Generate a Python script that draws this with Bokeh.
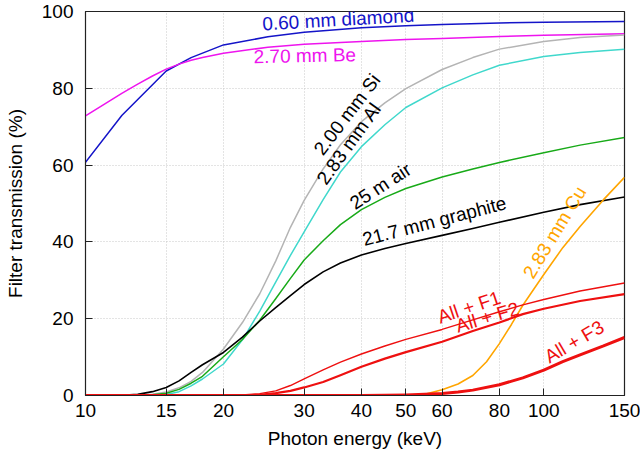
from bokeh.plotting import figure
from bokeh.models import FixedTicker, Label, Range1d
from bokeh.embed import file_html
from bokeh.resources import INLINE

# ---------------- data ----------------
x_ticks = [10, 15, 20, 30, 40, 50, 60, 80, 100, 150]
x_tick_labels = ["10", "15", "20", "30", "40", "50", "60", "80", "100", "150"]
y_ticks = [0, 20, 40, 60, 80, 100]

diamond_E = [10, 12, 15, 17, 20, 25, 30, 40, 50, 60, 80, 100, 150]
diamond_T = [60.7, 72.9, 84.5, 88.0, 91.3, 93.4, 94.6, 95.8, 96.3, 96.6, 97.0, 97.2, 97.4]

be_E = [10, 11, 12, 13, 14, 15, 16, 17, 18, 20, 25, 30, 40, 50, 60, 80, 100, 150]
be_T = [72.8, 75.9, 78.7, 81.1, 83.2, 85.0, 86.3, 87.3, 88.0, 89.1, 90.7, 91.5, 92.2, 92.7, 93.0, 93.5, 93.8, 94.2]

si_E = [10, 12, 13, 14, 15, 16, 17, 18, 20, 22, 24, 26, 28, 30, 33, 36, 40, 45, 50, 60, 70, 80, 100, 120, 150]
si_T = [0, 0, 0.05, 0.3, 0.9, 2.0, 3.7, 6.0, 12.1, 19.0, 26.5, 35.0, 43.8, 50.8, 59.0, 65.3, 71.3, 76.2, 79.9, 84.9, 88.0, 90.2, 92.2, 93.2, 93.9]

al_E = [10, 13, 14, 15, 16, 17, 18, 20, 22, 24, 26, 28, 30, 33, 36, 40, 45, 50, 60, 70, 80, 100, 120, 150]
al_T = [0, 0, 0.05, 0.25, 1.0, 2.5, 4.3, 8.2, 14.5, 22.0, 29.5, 36.5, 42.6, 51.0, 58.2, 64.8, 70.5, 75.0, 80.1, 83.5, 86.0, 88.3, 89.3, 90.2]

air_E = [10, 13, 14, 15, 16, 17, 18, 20, 22, 24, 26, 28, 30, 33, 36, 40, 45, 50, 60, 70, 80, 100, 120, 150]
air_T = [0, 0, 0.2, 0.6, 1.6, 3.2, 5.0, 10.1, 14.6, 19.6, 25.2, 30.5, 35.3, 40.3, 44.5, 48.4, 51.6, 53.9, 56.9, 59.0, 60.7, 63.2, 65.2, 67.2]

graphite_E = [10, 11, 12, 13, 14, 15, 16, 17, 18, 20, 22, 24, 26, 28, 30, 33, 36, 40, 45, 50, 60, 70, 80, 100, 120, 150]
graphite_T = [0, 0, 0.05, 0.3, 1.0, 2.1, 3.8, 6.0, 8.0, 11.2, 15.2, 19.4, 22.9, 26.0, 28.9, 32.2, 34.5, 36.6, 38.3, 39.6, 41.7, 43.5, 45.1, 47.7, 49.7, 51.7]

cu_E = [10, 50, 55, 60, 65, 70, 75, 80, 85, 90, 100, 110, 120, 135, 150]
cu_T = [0, 0, 0.3, 1.5, 3.0, 5.2, 8.8, 13.5, 18.5, 23.5, 31.5, 38.5, 44.0, 51.0, 56.8]

f1_E = [10, 20, 22, 24, 26, 28, 30, 33, 36, 40, 45, 50, 60, 70, 80, 90, 100, 120, 150]
f1_T = [0, 0, 0.15, 0.5, 1.2, 2.6, 4.3, 6.7, 8.7, 10.8, 12.9, 14.6, 17.2, 19.7, 21.8, 23.6, 25.0, 27.2, 29.3]

f2_E = [10, 22, 24, 26, 28, 30, 33, 36, 40, 45, 50, 60, 70, 80, 90, 100, 120, 150]
f2_T = [0, 0, 0.2, 0.6, 1.2, 2.1, 3.5, 5.3, 7.5, 9.6, 11.3, 14.0, 16.8, 19.0, 21.2, 22.6, 24.6, 26.4]

f3_E = [10, 40, 45, 50, 55, 60, 65, 70, 80, 90, 100, 110, 120, 135, 150]
f3_T = [0, 0, 0.05, 0.15, 0.3, 0.5, 0.9, 1.4, 2.8, 4.6, 6.6, 8.8, 10.6, 12.9, 15.1]

# curve label texts with their anchor (energy, transmission) and angle
label_texts = ["0.60 mm diamond", "2.70 mm Be", "2.00 mm Si", "2.83 mm Al", "25 m air",
               "21.7 mm graphite", "2.83 mm Cu", "All + F1", "All + F2", "All + F3"]
label_E = [35.6, 30.1, 37.2, 37.6, 44.0, 57.7, 105.6, 68.7, 75.3, 116.5]
label_T = [97.9, 88.5, 73.2, 65.7, 54.5, 45.4, 42.5, 23.0, 20.4, 14.0]
label_angle = [3.3, 1.1, 52.5, 54.2, 33, 14.6, 58.7, 18.5, 16.6, 30.3]

# ---------------- styling ----------------
FONT = "Liberation Sans"
FS = "19px"
BLUE = "#1414c8"
MAGENTA = "#ee14ee"
GRAY = "#b4b4b4"
CYAN = "#40d8cc"
GREEN = "#18aa18"
BLACK = "#000000"
ORANGE = "#ffa500"
RED = "#ee1010"
label_colors = [BLUE, MAGENTA, BLACK, BLACK, BLACK, BLACK, ORANGE, RED, RED, RED]

p = figure(width=640, height=455, x_axis_type="log",
           x_range=Range1d(10, 150), y_range=Range1d(0, 100),
           output_backend="svg", toolbar_location=None,
           min_border_left=85, min_border_right=16, min_border_top=11, min_border_bottom=60,
           background_fill_color="white", border_fill_color="white")

p.outline_line_color = "#222222"
p.outline_line_width = 1.2

xt = FixedTicker(ticks=x_ticks, minor_ticks=[])
yt = FixedTicker(ticks=y_ticks, minor_ticks=[])

for ax in p.xaxis:
    ax.ticker = xt
    ax.major_label_overrides = {t: s for t, s in zip(x_ticks, x_tick_labels)}
    ax.axis_label = "Photon energy (keV)"
    ax.major_label_standoff = 8
    ax.axis_label_standoff = 8
for ax in p.yaxis:
    ax.ticker = yt
    ax.axis_label = "Filter transmission (%)"
    ax.major_label_standoff = 12
    ax.axis_label_standoff = 13

for ax in list(p.xaxis) + list(p.yaxis):
    ax.major_tick_in = 7
    ax.major_tick_out = 0
    ax.minor_tick_in = 0
    ax.minor_tick_out = 0
    ax.axis_line_color = "#222222"
    ax.major_tick_line_color = "#222222"
    ax.major_label_text_font = FONT
    ax.major_label_text_font_size = FS
    ax.major_label_text_color = "black"
    ax.axis_label_text_font = FONT
    ax.axis_label_text_font_size = FS
    ax.axis_label_text_font_style = "normal"
    ax.axis_label_text_color = "black"

p.xgrid.ticker = xt
p.ygrid.ticker = yt
for g in (p.xgrid, p.ygrid):
    g.grid_line_color = "#c8c8c8"
    g.grid_line_dash = "1 2"
    g.grid_line_width = 1

series = [
    (diamond_E, diamond_T, BLUE, 1.5),
    (be_E, be_T, MAGENTA, 1.5),
    (si_E, si_T, GRAY, 1.5),
    (al_E, al_T, CYAN, 1.5),
    (air_E, air_T, GREEN, 1.5),
    (graphite_E, graphite_T, BLACK, 1.6),
    (cu_E, cu_T, ORANGE, 1.6),
    (f1_E, f1_T, RED, 1.4),
    (f2_E, f2_T, RED, 2.2),
    (f3_E, f3_T, RED, 3.0),
]
for xs, ys, c, w in series:
    p.line(xs, ys, line_color=c, line_width=w, line_join="round")

for txt, e, t, a, c in zip(label_texts, label_E, label_T, label_angle, label_colors):
    p.add_layout(Label(x=e, y=t, text=txt, angle=a, angle_units="deg",
                       text_align="center", text_baseline="middle",
                       text_font=FONT, text_font_size=FS, text_color=c))

open("out.html", "w").write(file_html(p, INLINE))
